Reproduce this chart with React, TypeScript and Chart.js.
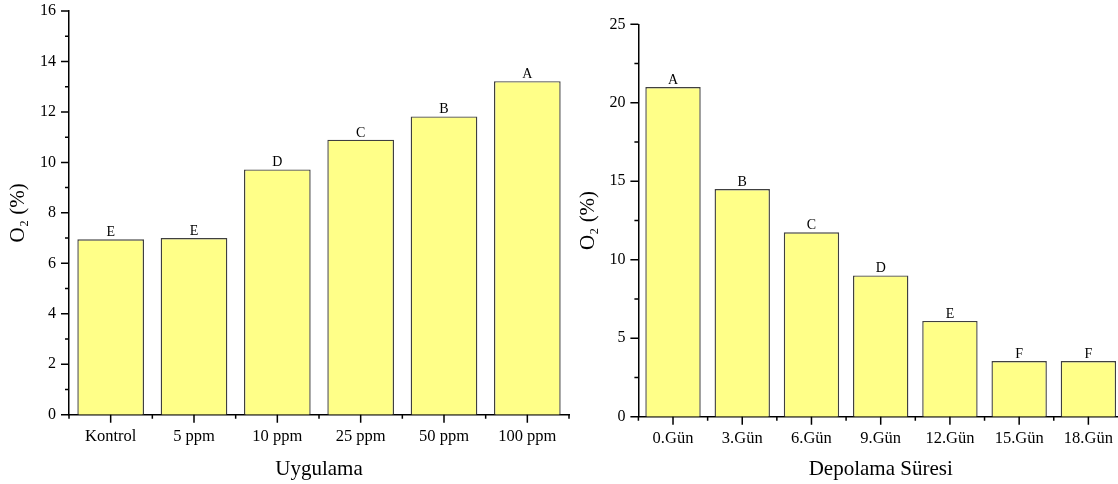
import React, { useEffect, useRef } from 'react';
import { Chart, registerables } from 'chart.js';

Chart.register(...registerables);

const FONT = '"Liberation Serif", "Times New Roman", serif';

// ---- Data ----
const leftCategories = ['Kontrol', '5 ppm', '10 ppm', '25 ppm', '50 ppm', '100 ppm'];
const leftValues = [6.95, 7.0, 9.72, 10.9, 11.82, 13.22];
const leftLetters = ['E', 'E', 'D', 'C', 'B', 'A'];
const leftYMax = 16;
const leftYStep = 2;
const leftXTitle = 'Uygulama';

const rightCategories = ['0.Gün', '3.Gün', '6.Gün', '9.Gün', '12.Gün', '15.Gün', '18.Gün'];
const rightValues = [21.0, 14.5, 11.75, 9.0, 6.1, 3.55, 3.55];
const rightLetters = ['A', 'B', 'C', 'D', 'E', 'F', 'F'];
const rightYMax = 25;
const rightYStep = 5;
const rightXTitle = 'Depolama Süresi';

const yTitle = 'O₂ (%)';

const axisTicksPlugin = {
  id: 'axisTicks',
  afterDraw(chart: any, _args: any, opts: any) {
    const { ctx } = chart;
    const xs = chart.scales.x;
    const ys = chart.scales.y;
    const { left, bottom } = chart.chartArea;
    const step = opts.step;
    ctx.save();
    ctx.strokeStyle = '#000';
    ctx.lineWidth = 1.5;
    ctx.beginPath();
    for (let v = ys.min; v <= ys.max + 1e-9; v += step / 2) {
      const py = ys.getPixelForValue(v);
      const major = Math.abs(v / step - Math.round(v / step)) < 1e-6;
      const len = major ? 8 : 4;
      ctx.moveTo(left - len, py);
      ctx.lineTo(left, py);
    }
    const n = chart.data.labels.length;
    for (let i = 0; i < n; i++) {
      const px = xs.getPixelForValue(i);
      ctx.moveTo(px, bottom);
      ctx.lineTo(px, bottom + 8);
    }
    for (let i = 0; i <= n; i++) {
      const px = xs.getPixelForValue(i - 0.5);
      ctx.moveTo(px, bottom);
      ctx.lineTo(px, bottom + 4);
    }
    ctx.stroke();
    ctx.restore();
  },
};

const lettersPlugin = {
  id: 'barLetters',
  afterDatasetsDraw(chart: any, _args: any, opts: any) {
    const { ctx } = chart;
    const meta = chart.getDatasetMeta(0);
    ctx.save();
    ctx.fillStyle = '#000';
    ctx.font = `14px ${FONT}`;
    ctx.textAlign = 'center';
    ctx.textBaseline = 'alphabetic';
    meta.data.forEach((el: any, i: number) => {
      ctx.fillText(opts.letters[i], el.x, el.y - 3);
    });
    ctx.restore();
  },
};

type Dims = {
  width: number;
  yWidth: number;
  xHeight: number;
  padTop: number;
  padRight: number;
};

function makeConfig(
  labels: string[],
  values: number[],
  letters: string[],
  yMax: number,
  yStep: number,
  xTitle: string,
  d: Dims
): any {
  return {
    type: 'bar',
    data: {
      labels,
      datasets: [
        {
          data: values,
          backgroundColor: 'rgb(255,255,136)',
          borderColor: '#404040',
          borderWidth: 1.4,
          barPercentage: 0.8,
          categoryPercentage: 1.0,
        },
      ],
    },
    options: {
      animation: false,
      responsive: false,
      maintainAspectRatio: false,
      layout: { padding: { top: d.padTop, right: d.padRight, bottom: 0, left: 0 } },
      plugins: {
        legend: { display: false },
        tooltip: { enabled: false },
        axisTicks: { step: yStep },
        barLetters: { letters },
      },
      scales: {
        x: {
          type: 'category',
          offset: true,
          grid: { display: false, drawTicks: false },
          border: { display: true, color: '#000', width: 1.5 },
          ticks: {
            color: '#000',
            font: { family: FONT, size: 16.5 },
            padding: 12,
            autoSkip: false,
            maxRotation: 0,
            minRotation: 0,
          },
          title: {
            display: true,
            text: xTitle,
            color: '#000',
            font: { family: FONT, size: 21 },
            padding: { top: 0, bottom: 2 },
          },
          afterFit(scale: any) {
            scale.height = d.xHeight;
            scale.paddingLeft = 0;
            scale.paddingRight = 0;
          },
        },
        y: {
          min: 0,
          max: yMax,
          grid: { display: false, drawTicks: false },
          border: { display: true, color: '#000', width: 1.5 },
          ticks: {
            stepSize: yStep,
            color: '#000',
            font: { family: FONT, size: 16 },
            padding: 13,
          },
          title: {
            display: true,
            text: yTitle,
            color: '#000',
            font: { family: FONT, size: 21 },
            padding: { top: 6, bottom: 0 },
          },
          afterFit(scale: any) {
            scale.width = d.yWidth;
            scale.paddingTop = 0;
            scale.paddingBottom = 0;
          },
        },
      },
    },
    plugins: [axisTicksPlugin, lettersPlugin],
  };
}

function BarChart(props: {
  labels: string[];
  values: number[];
  letters: string[];
  yMax: number;
  yStep: number;
  xTitle: string;
  dims: Dims;
  left: number;
}) {
  const ref = useRef<HTMLCanvasElement>(null);
  useEffect(() => {
    if (!ref.current) return;
    const chart = new Chart(
      ref.current,
      makeConfig(props.labels, props.values, props.letters, props.yMax, props.yStep, props.xTitle, props.dims)
    );
    return () => chart.destroy();
  }, []);
  return (
    <canvas
      ref={ref}
      width={props.dims.width}
      height={484}
      style={{
        position: 'absolute',
        left: props.left,
        top: 0,
        width: props.dims.width,
        height: 484,
      }}
    />
  );
}

export default function App() {
  return (
    <div
      style={{
        position: 'fixed',
        left: 0,
        top: 0,
        width: 1118,
        height: 484,
        overflow: 'hidden',
        background: '#fff',
      }}
    >
      <BarChart
        labels={leftCategories}
        values={leftValues}
        letters={leftLetters}
        yMax={leftYMax}
        yStep={leftYStep}
        xTitle={leftXTitle}
        left={0}
        dims={{ width: 570, yWidth: 69, xHeight: 69.3, padTop: 11, padRight: 1 }}
      />
      <BarChart
        labels={rightCategories}
        values={rightValues}
        letters={rightLetters}
        yMax={rightYMax}
        yStep={rightYStep}
        xTitle={rightXTitle}
        left={570}
        dims={{ width: 570, yWidth: 68.4, xHeight: 67.3, padTop: 24.3, padRight: 17 }}
      />
    </div>
  );
}
